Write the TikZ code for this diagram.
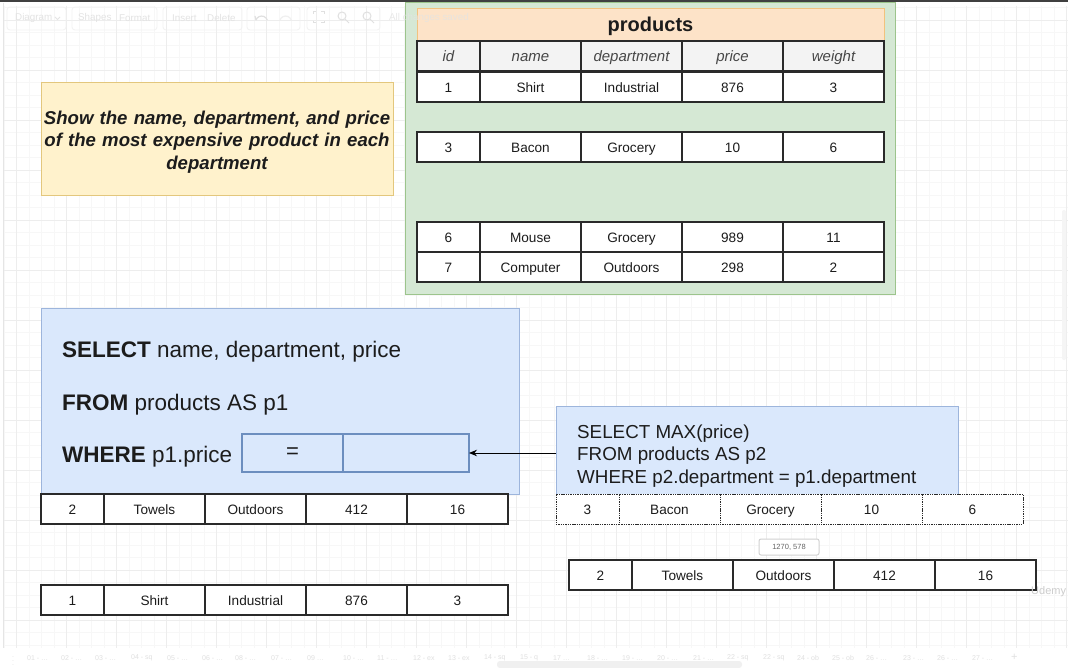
\documentclass[tikz,border=0pt]{standalone}
\usepackage{fontspec}
\setmainfont{Liberation Sans}
\usetikzlibrary{arrows.meta}

\definecolor{gfill}{HTML}{D5E8D4}
\definecolor{gline}{HTML}{9CC48C}
\definecolor{ofill}{HTML}{FDE3C8}
\definecolor{oline}{HTML}{F2C27E}
\definecolor{yfill}{HTML}{FFF2CC}
\definecolor{yline}{HTML}{E3C77D}
\definecolor{bfill}{HTML}{DAE8FC}
\definecolor{bline}{HTML}{9DB5DC}
\definecolor{bdark}{HTML}{6C8EBF}
\definecolor{hfill}{HTML}{F3F3F3}
\definecolor{ink}{HTML}{1C1C1C}
\definecolor{tline}{HTML}{2A2A2A}
\definecolor{gridmin}{HTML}{F7F7F7}
\definecolor{gridmaj}{HTML}{EDEDED}

\newcommand\fs[1]{\fontsize{#1}{#1}\selectfont}

\tikzset{
  cell/.style={draw=tline, line width=1.4, fill=white, minimum height=30,
    inner sep=0, outer sep=0, anchor=north west, text=ink, font=\fs{13.6},
    text height=12.4, text depth=1},
  headcell/.style={cell, fill=hfill, text=black!72, font=\fs{15}\itshape,
    text height=13, text depth=1},
  dashcell/.style={cell, line width=1, dash pattern=on 1.4 off 0.9},
  panel/.style={inner sep=0, outer sep=0, anchor=north west, line width=1},
  sqltext/.style={anchor=west, inner sep=0, text=ink, font=\fs{22.5}},
  slot/.style={panel, draw=bdark, line width=2.2, minimum height=38},
  conn/.style={draw=black, line width=1, -{Stealth[length=8,width=6.5]}},
  uitext/.style={text=black!11, font=\fs{9.8}, inner sep=0},
  uibtn/.style={draw=black!5, rounded corners=3, line width=0.8},
  tabtext/.style={text=black!12, font=\fs{7}, inner sep=0, anchor=west},
}

% one table row of five cells: name, style, x, y, five texts
\newcommand\tblrow[9]{%
  \node[#2, minimum width=63]  (#1-1) at (#3,#4) {#5};
  \node[#2, minimum width=101] (#1-2) at (#1-1.north east) {#6};
  \node[#2, minimum width=101] (#1-3) at (#1-2.north east) {#7};
  \node[#2, minimum width=101] (#1-4) at (#1-3.north east) {#8};
  \node[#2, minimum width=101] (#1-5) at (#1-4.north east) {#9};
}

\begin{document}
\begin{tikzpicture}[x=1pt,y=-1pt]
\useasboundingbox (0,0) rectangle (1068,668);
\fill[white] (0,0) rectangle (1068,668);

% canvas grid
\foreach \i in {0,...,85} \draw[gridmin, line width=0.8] ({4.2+12.5*\i},6) -- ({4.2+12.5*\i},648);
\foreach \j in {0,...,51} \draw[gridmin, line width=0.8] (3,{7.5+12.5*\j}) -- (1068,{7.5+12.5*\j});
\foreach \i in {0,...,21} \draw[gridmaj, line width=0.8] ({16.7+50*\i},6) -- ({16.7+50*\i},648);
\foreach \j in {0,...,12} \draw[gridmaj, line width=0.8] (3,{20+50*\j}) -- (1068,{20+50*\j});
\draw[black!10, line width=1] (3,3) -- (3,648);
\draw[black!75, line width=2] (0,1) -- (1068,1);

% products table
\node[panel, draw=gline, fill=gfill, minimum width=490, minimum height=292] (container) at (405,3) {};
\node[panel, draw=oline, fill=ofill, minimum width=467, minimum height=32,
  text=ink, font=\fs{20}\bfseries, text height=16, text depth=2] (ptitle) at (417,9) {products};
\tblrow{ph}{headcell}{417}{41}{id}{name}{department}{price}{weight}
\tblrow{pa}{cell}{417}{72}{1}{Shirt}{Industrial}{876}{3}
\tblrow{pb}{cell}{417}{132}{3}{Bacon}{Grocery}{10}{6}
\tblrow{pc}{cell}{417}{222}{6}{Mouse}{Grocery}{989}{11}
\tblrow{pd}{cell}{417}{252}{7}{Computer}{Outdoors}{298}{2}

% task note
\node[panel, draw=yline, fill=yfill, minimum width=352, minimum height=113] (note) at (41,83) {};
\node[inner sep=0, text width=352, align=center, text=ink,
  font=\fontsize{18.6}{22.5}\selectfont\bfseries\itshape]
  (notetext) at ([yshift=-2.5]note.center) {Show the name, department, and price\\ of the most expensive product in each\\ department};

% outer query
\node[panel, draw=bline, fill=bfill, minimum width=478, minimum height=185] (sql) at (41,309) {};
\node[sqltext] (sel) at (62,352) {\textbf{SELECT} name, department, price};
\node[sqltext] (from) at (62,404.5) {\textbf{FROM} products AS p1};
\node[sqltext] (where) at (62,456.5) {\textbf{WHERE} p1.price};
\node[slot, minimum width=101, font=\fs{22}, text=ink] (eqbox) at (242,434) {=};
\node[slot, minimum width=126] (subslot) at (343,434) {};

% subquery
\node[panel, draw=bline, fill=bfill, minimum width=402, minimum height=88] (sub) at (556,406) {};
\node[anchor=west, inner sep=0, align=left, text=ink, font=\fontsize{18.8}{22.5}\selectfont]
  (subtext) at (577,456) {SELECT MAX(price)\\FROM products AS p2\\WHERE p2.department = p1.department};
\draw[conn] (sub.west |- subslot.east) -- (subslot.east);

% result rows
\tblrow{la}{cell}{41}{494}{2}{Towels}{Outdoors}{412}{16}
\tblrow{lb}{cell}{41}{585}{1}{Shirt}{Industrial}{876}{3}
\tblrow{ra}{dashcell}{556}{494}{3}{Bacon}{Grocery}{10}{6}
\tblrow{rb}{cell}{569}{560}{2}{Towels}{Outdoors}{412}{16}

% position tooltip
\node[panel, draw=black!18, fill=white, rounded corners=2, minimum width=60, minimum height=16,
  text=black!60, font=\fs{7.5}] (tip) at (759,539) {1270, 578};
\node[text=black!20, font=\fs{11}, inner sep=0, anchor=west] (wm) at (1031,592) {Udemy};

% editor toolbar
\draw[uibtn] (7,7) rectangle (66,30);
\draw[uibtn] (72,7) rectangle (157,30);
\draw[uibtn] (163,7) rectangle (242,30);
\draw[uibtn] (247,7) rectangle (300,30);
\draw[uibtn] (307,7) rectangle (380,30);
\node[uitext, anchor=west] (tbdiag) at (15,18) {Diagram};
\draw[black!10, line width=0.8] (55,17) -- (57.5,19.5) -- (60,17);
\node[uitext, anchor=west] (tbshapes) at (78,18) {Shapes};
\node[uitext, anchor=west] (tbformat) at (119,18) {Format};
\node[uitext, anchor=west] (tbinsert) at (172,18) {Insert};
\node[uitext, anchor=west] (tbdelete) at (207,18) {Delete};
\draw[black!12, line width=1.2] (256,20) arc (200:340:6);
\draw[black!12, line width=1.2] (256,20) -- (255,16);
\draw[black!6, line width=1.2] (280,20) arc (200:340:6);
\draw[black!12, line width=1] (313,14) -- (313,12) -- (316,12) (321,12) -- (324,12) -- (324,14)
  (313,21) -- (313,23) -- (316,23) (321,23) -- (324,23) -- (324,21);
\draw[black!12, line width=1] (342,16) circle (4) (345,19) -- (349,23);
\draw[black!12, line width=1] (367,16) circle (4) (370,19) -- (374,23);
\node[uitext, anchor=west, opacity=0.8] (tbsaved) at (389,18) {All changes saved};

% page tabs
\foreach \x/\t in {27/01 - \ldots, 61/02 - \ldots, 95/03 - \ldots, 131/04 - sq, 167/05 - \ldots,
  202/06 - \ldots, 235/08 - \ldots, 271/07 - \ldots, 307/09 \ldots, 343/10 - \ldots, 377/11 - \ldots,
  413/12 - ex, 448/13 - ex, 484/14 - sq, 520/15 - q, 553/17 \ldots, 587/18 - \ldots, 622/19 - \ldots,
  657/20 - \ldots, 693/21 - \ldots, 727/22 - sq, 763/22 - sq, 797/24 - ob, 832/25 - ob,
  866/26 - \ldots, 903/23 - \ldots, 937/26 - \ldots, 972/27 - \ldots}
  \node[tabtext] at (\x,658) {\t};
\node[tabtext, font=\fs{11}] (tabadd) at (1011,657) {+};
\node[tabtext] (tabmenu) at (12,658) {\vdots};
\fill[black!6, rounded corners=3] (497,661) rectangle (742,668);
\fill[black!4, rounded corners=2] (1062,210) rectangle (1066,360);
\end{tikzpicture}
\end{document}
